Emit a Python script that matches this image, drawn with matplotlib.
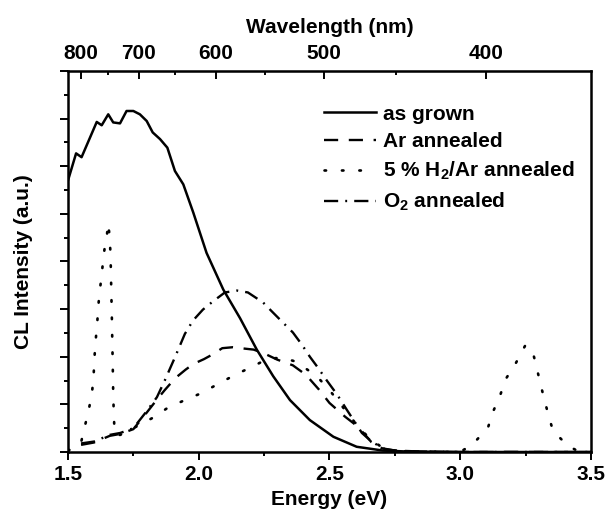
import matplotlib
matplotlib.use("Agg")
import matplotlib.pyplot as plt
from matplotlib.ticker import MultipleLocator, FixedLocator, NullFormatter

plt.rcParams['font.family'] = ['Liberation Sans', 'DejaVu Sans']
plt.rcParams['font.weight'] = 'bold'
plt.rcParams['mathtext.fontset'] = 'custom'
plt.rcParams['mathtext.rm'] = 'Liberation Sans:bold'
plt.rcParams['mathtext.bf'] = 'Liberation Sans:bold'
plt.rcParams['mathtext.default'] = 'rm'

# ---- data (energy in eV, intensity in arbitrary units) ----
grown_E = [1.50, 1.531, 1.552, 1.61, 1.629, 1.654, 1.673, 1.699, 1.724, 1.75, 1.775,
           1.801, 1.824, 1.852, 1.88, 1.909, 1.941, 1.979, 2.03, 2.094, 2.158, 2.222,
           2.285, 2.349, 2.425, 2.515, 2.604, 2.705, 2.8, 3.0, 3.2, 3.5]
grown_I = [5.70, 6.27, 6.19, 6.93, 6.86, 7.09, 6.92, 6.90, 7.16, 7.16, 7.09,
           6.95, 6.71, 6.57, 6.39, 5.90, 5.62, 5.03, 4.18, 3.41, 2.81, 2.15,
           1.59, 1.09, 0.67, 0.32, 0.11, 0.03, 0.01, 0.0, 0.0, 0.0]

ar_E = [1.55, 1.60, 1.66, 1.70, 1.75, 1.80, 1.84, 1.87, 1.91, 1.95, 1.98, 2.02, 2.05,
        2.09, 2.13, 2.16, 2.21, 2.25, 2.30, 2.36, 2.41, 2.46, 2.50, 2.56, 2.60, 2.63,
        2.66, 2.70, 2.75, 2.85, 3.0, 3.5]
ar_I = [0.15, 0.20, 0.34, 0.38, 0.48, 0.82, 1.10, 1.30, 1.55, 1.73, 1.85, 1.95, 2.04,
        2.18, 2.20, 2.18, 2.15, 2.07, 1.94, 1.82, 1.62, 1.31, 1.03, 0.74, 0.57, 0.40,
        0.21, 0.08, 0.03, 0.01, 0.0, 0.0]

h2_E = [1.50, 1.52, 1.55, 1.565, 1.58, 1.592, 1.598, 1.601, 1.605, 1.611, 1.615, 1.620,
        1.628, 1.634, 1.641, 1.649, 1.653, 1.6587, 1.6618, 1.6637, 1.6652, 1.6667, 1.6683,
        1.6694, 1.6706, 1.6717, 1.6728, 1.6744, 1.6767, 1.6797, 1.70, 1.75, 1.825, 1.882,
        1.947, 2.012, 2.074, 2.139, 2.204, 2.265, 2.32, 2.37, 2.45, 2.50, 2.55, 2.60, 2.65,
        2.70, 2.75, 2.80, 2.90, 3.0, 3.049, 3.106, 3.125, 3.152, 3.175, 3.213, 3.248,
        3.274, 3.29, 3.305, 3.32, 3.336, 3.355, 3.412, 3.45, 3.5]
h2_I = [0.03, 0.08, 0.20, 0.55, 0.90, 1.25, 1.60, 1.95, 2.30, 2.63, 2.98, 3.33,
        3.66, 4.00, 4.32, 4.55, 4.80, 4.57, 4.25, 3.90, 3.50, 3.10, 2.70,
        2.35, 2.00, 1.65, 1.30, 0.95, 0.60, 0.36, 0.36, 0.50, 0.72, 0.93,
        1.09, 1.24, 1.43, 1.62, 1.79, 1.96, 1.98, 1.90, 1.60, 1.30, 0.95, 0.60, 0.30,
        0.10, 0.03, 0.0, 0.0, 0.0, 0.17, 0.51, 0.84, 1.18, 1.54, 1.87, 2.23,
        2.17, 1.83, 1.47, 1.14, 0.80, 0.44, 0.13, 0.02, 0.0]

o2_E = [1.55, 1.60, 1.66, 1.70, 1.75, 1.80, 1.84, 1.87, 1.91, 1.947, 1.978, 2.016, 2.054,
        2.10, 2.146, 2.188, 2.246, 2.28, 2.318, 2.36, 2.395, 2.425, 2.456, 2.49, 2.53,
        2.567, 2.597, 2.624, 2.663, 2.712, 2.77, 2.85, 3.0, 3.5]
o2_I = [0.18, 0.22, 0.36, 0.40, 0.50, 0.85, 1.15, 1.50, 2.00, 2.48, 2.76, 2.99, 3.16,
        3.35, 3.39, 3.35, 3.14, 2.95, 2.74, 2.51, 2.25, 2.00, 1.77, 1.50, 1.20,
        0.88, 0.63, 0.40, 0.21, 0.06, 0.02, 0.01, 0.0, 0.0]

labels = ['as grown', 'Ar annealed', r'5 % H$_{2}$/Ar annealed', r'O$_{2}$ annealed']
wl_major = [800, 700, 600, 500, 400]
wl_minor = [750, 650, 550, 450]

fig = plt.figure(figsize=(6.08, 5.14), dpi=100)
ax = fig.add_axes([0.1118, 0.1206, 0.8602, 0.7413])

lw = 1.7
ax.plot(grown_E, grown_I, color='black', lw=1.8, ls='-', label=labels[0])
ax.plot(ar_E, ar_I, color='black', lw=lw, ls=(0, (6, 4.5)), label=labels[1])
ax.plot(h2_E, h2_I, color='black', lw=1.9, ls=(0, (0.6, 6.0)),
        dash_capstyle='round', label=labels[2])
ax.plot(o2_E, o2_I, color='black', lw=lw, ls=(0, (6, 3, 0.8, 3)), label=labels[3])

ax.set_xlim(1.5, 3.5)
ax.set_ylim(0, 8)
ax.xaxis.set_major_locator(MultipleLocator(0.5))
ax.xaxis.set_minor_locator(MultipleLocator(0.25))
ax.yaxis.set_major_locator(MultipleLocator(1))
ax.yaxis.set_minor_locator(MultipleLocator(0.5))
ax.yaxis.set_major_formatter(NullFormatter())
ax.tick_params(axis='both', which='major', direction='out', length=6, width=1.4,
               labelsize=15, top=False, right=False)
ax.tick_params(axis='both', which='minor', direction='out', length=3, width=1.4,
               top=False, right=False)
for s in ax.spines.values():
    s.set_linewidth(1.8)

ax.set_xlabel('Energy (eV)', fontsize=15, fontweight='bold', labelpad=4)
ax.set_ylabel('CL Intensity (a.u.)', fontsize=15, fontweight='bold', labelpad=16)

sec = ax.secondary_xaxis('top', functions=(lambda e: 1239.84 / e, lambda w: 1239.84 / w))
sec.xaxis.set_major_locator(FixedLocator(wl_major))
sec.xaxis.set_minor_locator(FixedLocator(wl_minor))
sec.tick_params(which='major', direction='in', length=6, width=1.4, labelsize=15, pad=6)
sec.tick_params(which='minor', direction='in', length=3, width=1.4)
sec.set_xlabel('Wavelength (nm)', fontsize=15, fontweight='bold', labelpad=8)

leg = ax.legend(loc='upper left', bbox_to_anchor=(0.49, 0.912), frameon=False,
                fontsize=15, handlelength=2.5, handletextpad=0.3, labelspacing=0.42,
                borderpad=0, borderaxespad=0)

fig.savefig('out.png', dpi=100)
